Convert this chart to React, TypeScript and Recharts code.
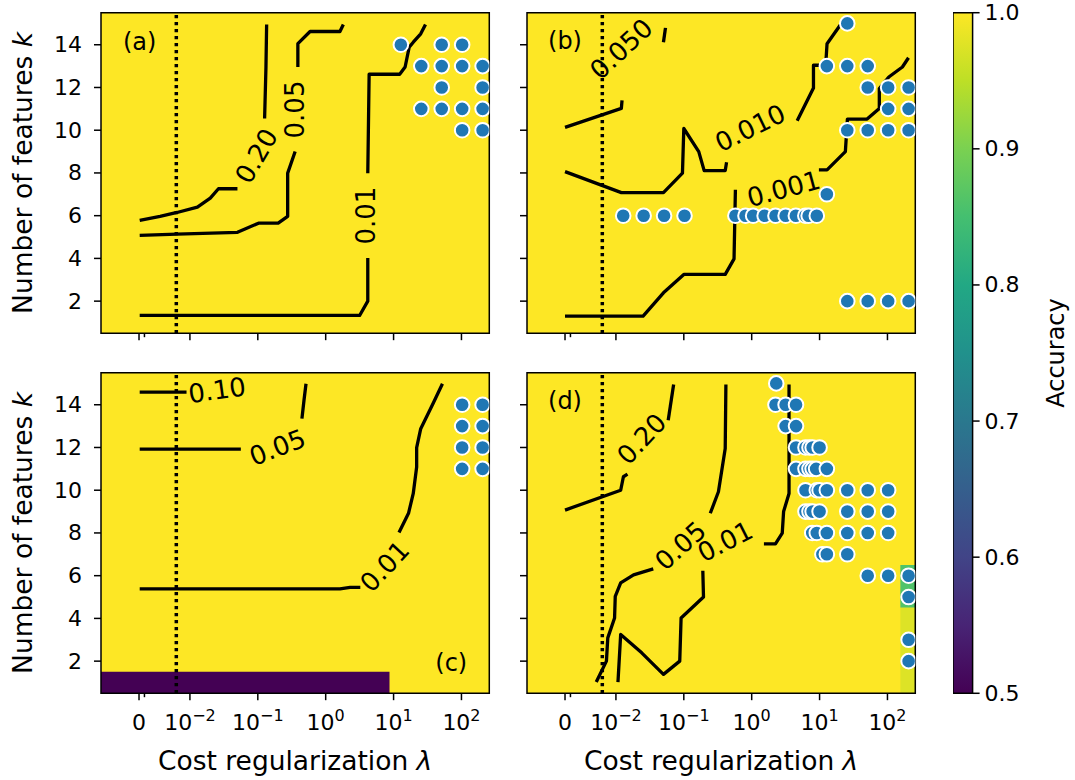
import React from "react";
import { ComposedChart, XAxis, YAxis, Line, Scatter, ReferenceArea, ReferenceLine } from "recharts";

const FONT = "'DejaVu Sans', sans-serif";

// horizontal axis runs in decades: x = log10(lambda); lambda = 0 is drawn at ZERO_AT
const X_MIN = -3.31;
const X_MAX = 2.41;
const ZERO_AT = -2.75;
const K_MIN = 0.5;
const K_MAX = 15.5;

const xTicks = [ZERO_AT, -2.67, -2, -1, 0, 1, 2];
const xTickBase = ["0", "", "10", "10", "10", "10", "10"];
const xTickExp = ["", "", "−2", "−1", "0", "1", "2"];
const kTicks = [2, 4, 6, 8, 10, 12, 14];
const accTicks = [0.5, 0.6, 0.7, 0.8, 0.9, 1.0];
const lambdaStar = 0.0063;

type Pt = [number, number];
type Lbl = [number, number, string, number];
type Cell = { x1: number; x2: number; k1: number; k2: number; acc: number };

// dots: [lambda, k]
const dotsA: Pt[] = [
  [12.8, 14], [51.2, 14], [102.4, 14],
  [25.6, 13], [51.2, 13], [102.4, 13], [204.8, 13],
  [51.2, 12], [204.8, 12],
  [25.6, 11], [51.2, 11], [102.4, 11], [204.8, 11],
  [102.4, 10], [204.8, 10],
];
const dotsB: Pt[] = [
  [25.6, 15],
  [12.8, 13], [25.6, 13], [51.2, 13],
  [51.2, 12], [102.4, 12], [204.8, 12],
  [102.4, 11], [204.8, 11],
  [25.6, 10], [51.2, 10], [102.4, 10], [204.8, 10],
  [12.8, 7],
  [0.0128, 6], [0.0256, 6], [0.0512, 6], [0.1024, 6],
  [0.575, 6], [0.81, 6], [1.05, 6], [1.55, 6], [2.24, 6], [3.16, 6], [4.47, 6], [6.17, 6], [6.9, 6], [9.1, 6],
  [25.6, 2], [51.2, 2], [102.4, 2], [204.8, 2],
];
const dotsC: Pt[] = [
  [102.4, 14], [204.8, 14], [102.4, 13], [204.8, 13],
  [102.4, 12], [204.8, 12], [102.4, 11], [204.8, 11],
];
const dotsD: Pt[] = [
  [2.3, 15],
  [2.24, 14], [3.16, 14], [4.5, 14],
  [3.16, 13], [4.5, 13],
  [4.5, 12], [6.2, 12], [7.1, 12], [7.9, 12], [10, 12],
  [4.5, 11], [6.2, 11], [7.1, 11], [7.9, 11], [8.9, 11], [12.8, 11],
  [6.2, 10], [9.1, 10], [10, 10], [12.8, 10], [25.6, 10], [51.2, 10], [102.4, 10],
  [6.2, 9], [7.1, 9], [7.9, 9], [10, 9], [25.6, 9], [51.2, 9], [102.4, 9],
  [7.8, 8], [9.1, 8], [12.8, 8], [25.6, 8], [51.2, 8], [102.4, 8],
  [11, 7], [12.8, 7], [25.6, 7],
  [51.2, 6], [102.4, 6], [204.8, 6],
  [204.8, 5], [204.8, 3], [204.8, 2],
];

// contour pieces: [log10 lambda, k], broken where the level label sits
const contoursA: Pt[][] = [
  [[-2.74, 5.78], [-2.44, 5.97], [-2.19, 6.15], [-1.89, 6.4], [-1.7, 6.82], [-1.58, 7.26], [-1.3, 7.26]],
  [[-0.9, 10.55], [-0.88, 12.96], [-0.87, 14.95]],
  [[-2.74, 5.08], [-2.19, 5.14], [-1.3, 5.22], [-0.99, 5.65], [-0.7, 5.65], [-0.56, 5.97], [-0.56, 7.99], [-0.45, 9.0]],
  [[-0.41, 12.96], [-0.41, 14.05], [-0.23, 14.62], [0.21, 14.62], [0.26, 14.95]],
  [[-2.74, 1.33], [0.5, 1.33], [0.62, 2.0], [0.62, 4.02]],
  [[0.62, 7.99], [0.64, 12.62], [1.09, 12.62], [1.17, 12.96], [1.23, 13.89], [1.29, 14.12], [1.4, 14.51], [1.47, 14.95]],
];
const contoursB: Pt[][] = [
  [[-2.75, 10.13], [-1.92, 11.02], [-1.91, 11.4]],
  [[-1.3, 14.12], [-1.27, 14.79]],
  [[-2.75, 8.06], [-1.92, 7.08], [-1.3, 7.08], [-1.02, 7.99], [-1.0, 10.08], [-0.78, 9.0], [-0.7, 8.11], [-0.39, 8.11], [-0.37, 8.5]],
  [[0.67, 10.44], [0.91, 11.98], [0.91, 13.04], [1.09, 13.04], [1.11, 14.05], [1.31, 14.95]],
  [[-2.75, 1.3], [-1.6, 1.3], [-1.3, 2.39], [-1.0, 3.25], [-0.39, 3.25], [-0.26, 3.98], [-0.24, 7.21]],
  [[0.99, 8.14], [1.11, 8.14], [1.38, 9.0], [1.41, 10.52], [1.7, 10.52], [1.88, 11.02], [1.88, 11.95], [2.02, 12.49], [2.22, 12.96], [2.31, 13.39]],
];
const contoursC: Pt[][] = [
  [[-2.74, 14.59], [-2.05, 14.59]],
  [[-2.74, 11.92], [-1.25, 11.92]],
  [[-0.35, 13.35], [-0.32, 14.2], [-0.29, 14.98]],
  [[-2.74, 5.38], [0.21, 5.38], [0.36, 5.45], [0.51, 5.45]],
  [[1.08, 8.02], [1.22, 8.92], [1.29, 9.85], [1.34, 11.09], [1.34, 11.99], [1.4, 12.88], [1.58, 14.05], [1.72, 14.98]],
];
const contoursD: Pt[][] = [
  [[-2.75, 9.07], [-1.93, 10.0], [-1.89, 10.63], [-1.83, 10.75]],
  [[-1.23, 13.27], [-1.15, 14.95]],
  [[-2.29, 1.02], [-2.14, 2.0], [-2.12, 3.09], [-2.02, 4.02], [-2.01, 5.03], [-1.93, 5.66], [-1.74, 6.04], [-1.45, 6.32]],
  [[-0.61, 8.92], [-0.49, 9.93], [-0.39, 11.95], [-0.38, 14.95]],
  [[-1.97, 1.02], [-1.93, 3.25], [-1.62, 2.39], [-1.3, 1.38], [-1.06, 2.0], [-1.04, 4.02], [-0.71, 5.0], [-0.72, 6.23]],
  [[0.18, 7.49], [0.35, 7.49], [0.45, 7.99], [0.47, 9.0], [0.55, 9.85], [0.55, 14.95]],
];

// level labels: [log10 lambda, k, text, angle]
const labelsA: Lbl[] = [[-1.02, 8.79, "0.20", -60], [-0.45, 10.97, "0.05", -90], [0.6, 6.0, "0.01", -90]];
const labelsB: Lbl[] = [[-1.92, 13.8, "0.050", -43], [-0.02, 10.1, "0.010", -26], [0.47, 7.25, "0.001", -15]];
const labelsC: Lbl[] = [[-1.6, 14.68, "0.10", -8], [-0.71, 12.0, "0.05", -21], [0.87, 6.43, "0.01", -47]];
const labelsD: Lbl[] = [[-1.62, 12.4, "0.20", -47], [-1.05, 7.4, "0.05", -42], [-0.39, 7.6, "0.01", -27]];

// accuracy cells that are not ~1.0
const cellsC: Cell[] = [{ x1: X_MIN, x2: 0.94, k1: 0.5, k2: 1.5, acc: 0.5 }];
const cellsD: Cell[] = [
  { x1: 2.19, x2: X_MAX, k1: 4.5, k2: 6.5, acc: 0.86 },
  { x1: 2.19, x2: X_MAX, k1: 0.5, k2: 4.5, acc: 0.975 },
];

const VIRIDIS = ["#440154", "#482475", "#414487", "#355f8d", "#2a788e", "#21918c", "#22a884", "#44bf70", "#7ad151", "#bddf26", "#fde725"];

function viridis(acc: number): string {
  const t = Math.min(1, Math.max(0, (acc - 0.5) / 0.5)) * 10;
  const i = Math.min(9, Math.floor(t));
  const f = t - i;
  const a = parseInt(VIRIDIS[i].slice(1), 16);
  const b = parseInt(VIRIDIS[i + 1].slice(1), 16);
  const ch = (s: number) => Math.round(((a >> s) & 255) * (1 - f) + ((b >> s) & 255) * f);
  return `rgb(${ch(16)},${ch(8)},${ch(0)})`;
}

const toX = (lam: number) => (lam === 0 ? ZERO_AT : Math.log10(lam));

const XTick = (props: any) => {
  const { x, y, payload, showLabel } = props;
  const i = xTicks.indexOf(payload.value);
  const minor = xTickBase[i] === "";
  return (
    <g>
      <line x1={x} x2={x} y1={y} y2={y + (minor ? 4 : 7)} stroke="#000" strokeWidth={1.5} />
      {showLabel && !minor && (
        <text x={x} y={y + 37} textAnchor="middle" fontSize={22} fontFamily={FONT} fill="#000">
          <tspan>{xTickBase[i]}</tspan>
          {xTickExp[i] && (
            <tspan dy={-9} fontSize={16}>
              {xTickExp[i]}
            </tspan>
          )}
        </text>
      )}
    </g>
  );
};

const YTick = (props: any) => {
  const { x, y, payload, showLabel } = props;
  return (
    <g>
      <line x1={x - 7} x2={x} y1={y} y2={y} stroke="#000" strokeWidth={1.5} />
      {showLabel && (
        <text x={x - 19} y={y} textAnchor="end" dominantBaseline="central" fontSize={22} fontFamily={FONT} fill="#000">
          {payload.value}
        </text>
      )}
    </g>
  );
};

const Dot = (p: any) => <circle cx={p.cx} cy={p.cy} r={7.3} fill="#1f77b4" stroke="#fff" strokeWidth={2} />;

const LevelLabel = (p: any) => (
  <text
    x={p.cx}
    y={p.cy}
    transform={`rotate(${p.payload.angle} ${p.cx} ${p.cy})`}
    textAnchor="middle"
    dominantBaseline="central"
    fontSize={p.payload.size}
    fontFamily={FONT}
    fill="#000"
  >
    {p.payload.text}
  </text>
);

const PLOT_W = 388.3;
const PLOT_H = 320.5;
const Y_AXIS_W = 101;
const X_AXIS_H = 90;
const TOP = 12.7;

interface PanelProps {
  left: number;
  top: number;
  dots: Pt[];
  contours: Pt[][];
  labels: Lbl[];
  cells: Cell[];
  letter: Lbl;
  showX: boolean;
  showY: boolean;
}

function Panel({ left, top, dots, contours, labels, cells, letter, showX, showY }: PanelProps) {
  const labelData = labels.map(([x, y, text, angle]) => ({ x, y, text, angle, size: 26 }));
  labelData.push({ x: letter[0], y: letter[1], text: letter[2], angle: letter[3], size: 24 });
  return (
    <div style={{ position: "absolute", left: left - Y_AXIS_W, top: top - TOP }}>
      <ComposedChart
        width={Y_AXIS_W + PLOT_W + 12}
        height={TOP + PLOT_H + X_AXIS_H}
        margin={{ top: TOP, right: 12, bottom: 0, left: 0 }}
      >
        <XAxis
          type="number"
          dataKey="x"
          domain={[X_MIN, X_MAX]}
          ticks={xTicks}
          interval={0}
          allowDataOverflow
          axisLine={false}
          tickLine={false}
          tickSize={0}
          tickMargin={0}
          height={X_AXIS_H}
          tick={<XTick showLabel={showX} />}
          label={
            showX
              ? (p: any) => {
                  const vb = p.viewBox;
                  return (
                    <text x={vb.x + vb.width / 2} y={vb.y + 77} textAnchor="middle" fontSize={26.5} fontFamily={FONT} fill="#000">
                      Cost regularization <tspan fontStyle="italic">λ</tspan>
                    </text>
                  );
                }
              : undefined
          }
        />
        <YAxis
          type="number"
          dataKey="y"
          domain={[K_MIN, K_MAX]}
          ticks={kTicks}
          interval={0}
          allowDataOverflow
          axisLine={false}
          tickLine={false}
          tickSize={0}
          tickMargin={0}
          width={Y_AXIS_W}
          tick={<YTick showLabel={showY} />}
          label={
            showY
              ? (p: any) => {
                  const vb = p.viewBox;
                  const cx = vb.x + 32;
                  const cy = vb.y + vb.height / 2;
                  return (
                    <text x={cx} y={cy} transform={`rotate(-90 ${cx} ${cy})`} textAnchor="middle" fontSize={26.5} fontFamily={FONT} fill="#000">
                      Number of features <tspan fontStyle="italic">k</tspan>
                    </text>
                  );
                }
              : undefined
          }
        />
        <ReferenceArea x1={X_MIN} x2={X_MAX} y1={K_MIN} y2={K_MAX} fill={viridis(1.0)} fillOpacity={1} stroke="none" />
        {cells.map((c, i) => (
          <ReferenceArea key={"c" + i} x1={c.x1} x2={c.x2} y1={c.k1} y2={c.k2} fill={viridis(c.acc)} fillOpacity={1} stroke="none" />
        ))}
        <ReferenceLine x={toX(lambdaStar)} stroke="#000" strokeWidth={3.5} strokeDasharray="3.3 3.7" />
        {contours.map((seg, i) => (
          <Line
            key={"l" + i}
            data={seg.map(([x, y]) => ({ x, y }))}
            dataKey="y"
            type="linear"
            stroke="#000"
            strokeWidth={3.3}
            strokeLinejoin="round"
            dot={false}
            activeDot={false}
            isAnimationActive={false}
          />
        ))}
        <Scatter data={dots.map(([l, k]) => ({ x: toX(l), y: k }))} shape={Dot} isAnimationActive={false} />
        <Scatter data={labelData} shape={LevelLabel} isAnimationActive={false} />
        <ReferenceArea x1={X_MIN} x2={X_MAX} y1={K_MIN} y2={K_MAX} fill="none" stroke="#000" strokeWidth={1.5} />
      </ComposedChart>
    </div>
  );
}

const CbTick = (props: any) => {
  const { x, y, payload } = props;
  return (
    <g>
      <line x1={x} x2={x + 7} y1={y} y2={y} stroke="#000" strokeWidth={1.5} />
      <text x={x + 12} y={y} dominantBaseline="central" fontSize={22} fontFamily={FONT} fill="#000">
        {payload.value.toFixed(1)}
      </text>
    </g>
  );
};

function Colorbar() {
  const barW = 19.6;
  const barH = 680.6;
  return (
    <div style={{ position: "absolute", left: 952.7, top: 0 }}>
      <ComposedChart width={barW + 120} height={TOP + barH + 30} margin={{ top: TOP, right: 0, bottom: 30, left: 0 }}>
        <defs>
          <linearGradient id="viridisGrad" x1="0" y1="1" x2="0" y2="0">
            {VIRIDIS.map((c, i) => (
              <stop key={i} offset={`${i * 10}%`} stopColor={c} />
            ))}
          </linearGradient>
        </defs>
        <XAxis type="number" dataKey="x" domain={[0, 1]} hide />
        <YAxis
          type="number"
          dataKey="y"
          orientation="right"
          domain={[0.5, 1.0]}
          ticks={accTicks}
          interval={0}
          axisLine={false}
          tickLine={false}
          tickSize={0}
          tickMargin={0}
          width={120}
          tick={<CbTick />}
          label={(p: any) => {
            const vb = p.viewBox;
            const cx = vb.x + 91;
            const cy = vb.y + vb.height / 2;
            return (
              <text x={cx} y={cy} transform={`rotate(-90 ${cx} ${cy})`} textAnchor="middle" fontSize={24} fontFamily={FONT} fill="#000">
                Accuracy
              </text>
            );
          }}
        />
        <ReferenceArea x1={0} x2={1} y1={0.5} y2={1.0} fill="url(#viridisGrad)" fillOpacity={1} stroke="#000" strokeWidth={1.5} />
        <Scatter data={[{ x: 0.5, y: 0.75 }]} shape={() => <g />} isAnimationActive={false} />
      </ComposedChart>
    </div>
  );
}

export default function App() {
  return (
    <div style={{ position: "absolute", left: 0, top: 0, width: 1075, height: 780, background: "#fff", fontFamily: FONT, overflow: "hidden" }}>
      <Panel left={101} top={12.7} dots={dotsA} contours={contoursA} labels={labelsA} cells={[]} letter={[-2.74, 14.12, "(a)", 0]} showX={false} showY />
      <Panel left={526.7} top={12.7} dots={dotsB} contours={contoursB} labels={labelsB} cells={[]} letter={[-2.75, 14.17, "(b)", 0]} showX={false} showY={false} />
      <Panel left={101} top={372.7} dots={dotsC} contours={contoursC} labels={labelsC} cells={cellsC} letter={[1.85, 1.93, "(c)", 0]} showX showY />
      <Panel left={526.7} top={372.7} dots={dotsD} contours={contoursD} labels={labelsD} cells={cellsD} letter={[-2.75, 14.17, "(d)", 0]} showX showY={false} />
      <Colorbar />
    </div>
  );
}
